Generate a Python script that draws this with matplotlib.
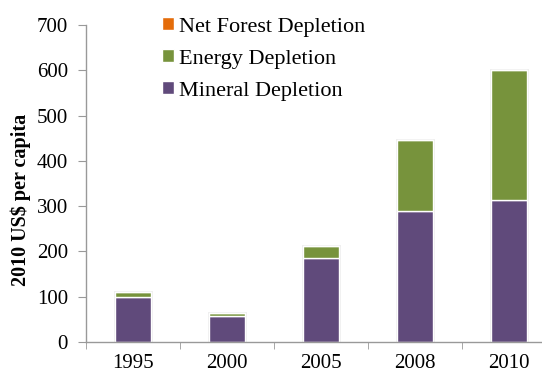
import matplotlib
matplotlib.use("Agg")
import matplotlib.pyplot as plt
import numpy as np

years = ["1995", "2000", "2005", "2008", "2010"]
mineral = [100, 58, 185, 289, 314]
energy = [10, 6, 28, 157, 286]
forest = [0, 0, 0, 0, 0]

c_min = "#604A7B"
c_en = "#77933C"
c_for = "#E46C0A"

plt.rcParams["font.family"] = ["Liberation Serif", "DejaVu Serif"]

W, H = 542, 374
fig = plt.figure(figsize=(W/100, H/100), dpi=100)
ax = fig.add_axes([86/W, 1-342/H, (556-86)/W, 317/H])

x = np.arange(len(years))
w = 0.38
total = [m + e + f for m, e, f in zip(mineral, energy, forest)]
ax.bar(x, total, w, color="none", edgecolor="#ececec", linewidth=2.0, zorder=1)
b1 = ax.bar(x, mineral, w, color=c_min, edgecolor="white", linewidth=1.0, label="Mineral Depletion", zorder=2)
b2 = ax.bar(x, energy, w, bottom=mineral, color=c_en, edgecolor="white", linewidth=1.0, label="Energy Depletion", zorder=2)
bottom2 = [m + e for m, e in zip(mineral, energy)]
b3 = ax.bar(x, forest, w, bottom=bottom2, color=c_for, edgecolor="white", linewidth=1.0, label="Net Forest Depletion", zorder=2)

ax.set_xlim(-0.5, len(years) - 0.5)
ax.set_ylim(0, 700)
ax.set_yticks(range(0, 701, 100))
ax.set_xticks(x)
ax.set_xticklabels(years)
ax.set_xticks(np.arange(-0.5, len(years), 1.0), minor=True)
ax.tick_params(axis="x", which="major", length=0, labelsize=15, pad=9)
ax.tick_params(axis="x", which="minor", length=5, color="#999999", direction="out")
ax.tick_params(axis="y", length=6, color="#999999", labelsize=15, pad=7)
for s in ["top", "right"]:
    ax.spines[s].set_visible(False)
for s in ["left", "bottom"]:
    ax.spines[s].set_color("#999999")
    ax.spines[s].set_linewidth(1.0)

fig.text(21/W, 1-200/H, "2010 US$ per capita", rotation=90, fontsize=14.5,
         fontweight="bold", ha="center", va="center")

leg = fig.legend(handles=[b3, b2, b1], loc="upper left", bbox_to_anchor=(162/W, 1-17/H),
                 frameon=False, fontsize=16, handlelength=0.55, handleheight=0.55,
                 labelspacing=0.56, handletextpad=0.22, borderpad=0, borderaxespad=0)

fig.savefig("out.png", dpi=100)
